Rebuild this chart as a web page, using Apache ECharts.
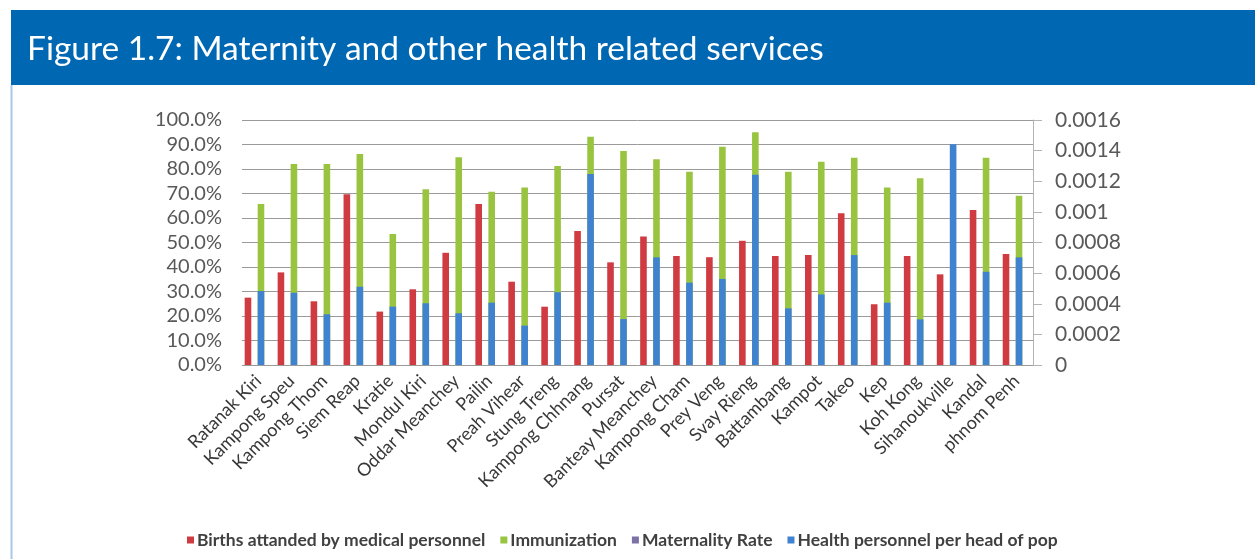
<!DOCTYPE html>
<html>
<head>
<meta charset="utf-8">
<script src="https://cdn.jsdelivr.net/npm/echarts@6/dist/echarts.min.js"></script>
<style>
  html, body { margin: 0; padding: 0; background: #ffffff; }
  #chart { width: 1255px; height: 559px; }
</style>
</head>
<body>
<div id="chart"></div>
<script>
// Provinces, in plotting order
const provinces = [
  'Ratanak Kiri', 'Kampong Speu', 'Kampong Thom', 'Siem Reap', 'Kratie',
  'Mondul Kiri', 'Oddar Meanchey', 'Pailin', 'Preah Vihear', 'Stung Treng',
  'Kampong Chhnang', 'Pursat', 'Banteay Meanchey', 'Kampong Cham', 'Prey Veng',
  'Svay Rieng', 'Battambang', 'Kampot', 'Takeo', 'Kep',
  'Koh Kong', 'Sihanoukville', 'Kandal', 'phnom Penh'
];

// Primary axis (%)
const births = [
  27.5, 37.8, 26.0, 69.7, 21.8, 30.9, 45.8, 65.7, 34.0, 23.8,
  54.7, 41.9, 52.4, 44.5, 44.0, 50.7, 44.5, 44.9, 61.9, 24.8,
  44.5, 37.0, 63.3, 45.3
];
const immunization = [
  65.7, 82.0, 82.0, 86.1, 53.5, 71.7, 84.8, 70.7, 72.5, 81.2,
  93.2, 87.3, 84.0, 78.9, 89.1, 95.0, 78.9, 83.0, 84.6, 72.5,
  76.2, null, 84.6, 69.1
];

// Secondary axis (ratio)
const maternality = [];
const healthPersonnel = [
  0.000483, 0.000472, 0.000331, 0.000511, 0.000381, 0.000403, 0.000338, 0.000407,
  0.000257, 0.000475, 0.001247, 0.000300, 0.000703, 0.000538, 0.000562, 0.001243,
  0.000370, 0.000461, 0.000718, 0.000407, 0.000298, 0.001441, 0.000609, 0.000703
];

// Tick labels, bottom to top
const leftTicks = ['0.0%', '10.0%', '20.0%', '30.0%', '40.0%', '50.0%',
                   '60.0%', '70.0%', '80.0%', '90.0%', '100.0%'];
const rightTicks = ['0', '0.0002', '0.0004', '0.0006', '0.0008',
                    '0.001', '0.0012', '0.0014', '0.0016'];

const seriesNames = [
  'Births attanded by medical personnel',
  'Immunization',
  'Maternality Rate',
  'Health personnel per head of pop'
];
const colors = ['#cf3b40', '#98c440', '#7d72a6', '#3f82d0'];

const BAR_W = 6.6;
const PAD_W = 1.6;
const GAP = '97%';

const chart = echarts.init(document.getElementById('chart'));

const barBase = { type: 'bar', barWidth: BAR_W, barGap: GAP, silent: true };

chart.setOption({
  animation: false,
  backgroundColor: '#ffffff',
  graphic: [
    { type: 'rect', shape: { x: 11, y: 10, width: 1244, height: 75 },
      style: { fill: '#0067b2' }, silent: true },
    { type: 'line', shape: { x1: 11.5, y1: 85, x2: 11.5, y2: 559 },
      style: { stroke: '#a9c8e6', lineWidth: 2 }, silent: true },
    { type: 'text', x: 27, y: 49,
      style: { text: 'Figure 1.7: Maternity and other health related services',
               fill: '#ffffff', font: '33.5px Lato', verticalAlign: 'middle' },
      silent: true }
  ],
  legend: {
    data: seriesNames,
    left: 182, top: 526,
    icon: 'rect', itemWidth: 7, itemHeight: 7, itemGap: 15,
    selectedMode: false,
    textStyle: { fontFamily: 'Lato', fontWeight: 'bold', fontSize: 17.5, color: '#404040', padding: [0, 0, 0, -2] }
  },
  grid: { left: 242, right: 222, top: 120, bottom: 194, containLabel: false },
  xAxis: [
    { type: 'category', data: provinces, axisLine: { show: false }, axisTick: { show: false },
      axisLabel: { interval: 0, rotate: 45, margin: 13, fontFamily: 'Lato', fontSize: 18, color: '#383838' } },
    { type: 'category', data: provinces, show: false }
  ],
  yAxis: [
    { type: 'value', min: 0, max: 100, interval: 10,
      axisLine: { show: false }, axisTick: { show: false },
      splitLine: { lineStyle: { color: '#9a9a9a', width: 1 } },
      axisLabel: { margin: 20, fontFamily: 'Lato', fontSize: 20, color: '#595959',
                   formatter: (v, i) => leftTicks[i] } },
    { type: 'value', min: 0, max: 0.0016, interval: 0.0002, position: 'right',
      axisLine: { show: true, lineStyle: { color: '#b4b4b4', width: 1 } },
      axisTick: { show: true, length: 9, lineStyle: { color: '#b4b4b4' } },
      splitLine: { show: false },
      axisLabel: { margin: 22, fontFamily: 'Lato', fontSize: 21, color: '#595959',
                   formatter: (v, i) => rightTicks[i] } }
  ],
  series: [
    Object.assign({}, barBase, { name: seriesNames[0], xAxisIndex: 0, yAxisIndex: 0,
      data: births, itemStyle: { color: colors[0] } }),
    Object.assign({}, barBase, { name: seriesNames[1], xAxisIndex: 0, yAxisIndex: 0,
      data: immunization, itemStyle: { color: colors[1] } }),
    Object.assign({}, barBase, { name: 'spacer-a', xAxisIndex: 0, yAxisIndex: 0,
      barWidth: PAD_W, data: [] }),
    Object.assign({}, barBase, { name: seriesNames[2], xAxisIndex: 1, yAxisIndex: 1,
      data: maternality, itemStyle: { color: colors[2] } }),
    Object.assign({}, barBase, { name: seriesNames[3], xAxisIndex: 1, yAxisIndex: 1,
      data: healthPersonnel, itemStyle: { color: colors[3] } }),
    Object.assign({}, barBase, { name: 'spacer-b', xAxisIndex: 1, yAxisIndex: 1,
      barWidth: PAD_W, data: [] })
  ]
});
</script>
</body>
</html>
